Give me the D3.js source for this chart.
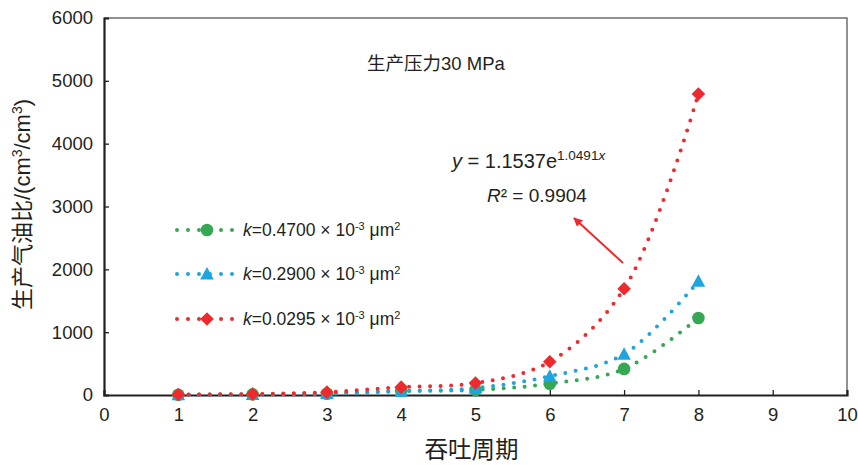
<!DOCTYPE html>
<html>
<head>
<meta charset="utf-8">
<script src="https://cdn.jsdelivr.net/npm/d3@7"></script>
<style>
  body { margin: 0; background: #fff; }
  svg text { font-family: "Liberation Sans", Arial, "Noto Sans CJK SC", sans-serif; fill: #231f20; }
</style>
</head>
<body>
<div id="chart"></div>
<script>
// data
const cycles = [1, 2, 3, 4, 5, 6, 7, 8];
const gorHighK = [5, 10, 20, 65, 80, 180, 415, 1225];     // k=0.4700
const gorMidK = [3, 8, 25, 60, 110, 300, 650, 1810];      // k=0.2900
const gorLowK = [8, 15, 45, 125, 190, 530, 1690, 4790];   // k=0.0295
const xTicks = [0, 1, 2, 3, 4, 5, 6, 7, 8, 9, 10];
const yTicks = [0, 1000, 2000, 3000, 4000, 5000, 6000];

const series = [
    {name: "0.4700", values: gorHighK, color: "#36a853", shape: "circle"},
    {name: "0.2900", values: gorMidK, color: "#1ea5e0", shape: "triangle"},
    {name: "0.0295", values: gorLowK, color: "#ee2a2e", shape: "diamond"}
];

const width = 858, height = 465;
const margin = {top: 18, right: 11, bottom: 70, left: 104};
const innerWidth = width - margin.left - margin.right,
    innerHeight = height - margin.top - margin.bottom;

const svg = d3.select("#chart").append("svg")
    .attr("width", width)
    .attr("height", height);

const defs = svg.append("defs");
defs.append("marker")
    .attr("id", "arrow")
    .attr("viewBox", "0 0 10 10")
    .attr("refX", 9).attr("refY", 5)
    .attr("markerWidth", 4.5).attr("markerHeight", 4.5)
    .attr("orient", "auto")
    .append("path")
    .attr("d", "M0,0 L10,5 L0,10 z")
    .attr("fill", "#ee2a2e");

const g = svg.append("g")
    .attr("transform", `translate(${margin.left},${margin.top})`);

const xScale = d3.scaleLinear().domain([0, 10]).range([0, innerWidth]);
const yScale = d3.scaleLinear().domain([0, 6000]).range([innerHeight, 0]);

// frame: top and right in grey
g.append("path")
    .attr("d", `M0,0 H${innerWidth} V${innerHeight}`)
    .attr("fill", "none")
    .attr("stroke", "#6d6e71")
    .attr("stroke-width", 1.5);

const xAxis = d3.axisBottom(xScale).tickValues(xTicks).tickSize(-5).tickPadding(13).tickFormat(d3.format("d"));
const yAxis = d3.axisLeft(yScale).tickValues(yTicks).tickSize(-5).tickPadding(11).tickFormat(d3.format("d"));

const xAxisG = g.append("g").attr("transform", `translate(0,${innerHeight})`).call(xAxis);
const yAxisG = g.append("g").call(yAxis);
[xAxisG, yAxisG].forEach(a => {
    a.select(".domain").attr("stroke", "#231f20").attr("stroke-width", 2.2);
    a.selectAll(".tick line").attr("stroke", "#231f20").attr("stroke-width", 1.3);
    a.selectAll(".tick text").attr("font-size", 18.5).attr("fill", "#231f20");
});
xAxisG.selectAll(".tick").filter(d => d === 0 || d === 10).select("line").remove();
yAxisG.selectAll(".tick").filter(d => d === 0 || d === 6000).select("line").remove();

// axis titles
svg.append("text")
    .attr("x", margin.left + innerWidth / 2 - 4)
    .attr("y", 458)
    .attr("text-anchor", "middle")
    .attr("font-size", 23.5)
    .text("吞吐周期");

svg.append("text")
    .attr("transform", `translate(30,${margin.top + innerHeight / 2 - 2}) rotate(-90)`)
    .attr("text-anchor", "middle")
    .attr("font-size", 22)
    .html('生产气油比/(cm<tspan dy="-8" font-size="14">3</tspan><tspan dy="8">/cm</tspan><tspan dy="-8" font-size="14">3</tspan><tspan dy="8">)</tspan>');

// dotted smooth lines
const line = d3.line()
    .x((d, i) => xScale(cycles[i]))
    .y(d => yScale(d))
    .curve(d3.curveCatmullRom.alpha(0.5));

function drawMarker(sel, shape, color, x, y) {
    if (shape === "circle") {
        sel.append("circle").attr("cx", x).attr("cy", y).attr("r", 6.3).attr("fill", color);
    } else if (shape === "triangle") {
        sel.append("path")
            .attr("d", "M0,-7 L6.8,5.5 L-6.8,5.5 Z")
            .attr("transform", `translate(${x},${y})`)
            .attr("fill", color);
    } else {
        sel.append("path")
            .attr("d", "M0,-6.8 L6.8,0 L0,6.8 L-6.8,0 Z")
            .attr("transform", `translate(${x},${y})`)
            .attr("fill", color);
    }
}

series.forEach(s => {
    g.append("path")
        .datum(s.values)
        .attr("d", line)
        .attr("fill", "none")
        .attr("stroke", s.color)
        .attr("stroke-width", 4)
        .attr("stroke-linecap", "round")
        .attr("stroke-dasharray", "0 10.5");
});
series.forEach(s => {
    const mg = g.append("g");
    s.values.forEach((v, i) => drawMarker(mg, s.shape, s.color, xScale(cycles[i]), yScale(v)));
});

// legend
const legendY = [230, 274, 319];
series.forEach((s, i) => {
    const lg = svg.append("g").attr("transform", `translate(0,${legendY[i]})`);
    lg.append("line")
        .attr("x1", 177).attr("x2", 233)
        .attr("y1", 0).attr("y2", 0)
        .attr("stroke", s.color)
        .attr("stroke-width", 4)
        .attr("stroke-linecap", "round")
        .attr("stroke-dasharray", "0 11");
    drawMarker(lg, s.shape, s.color, 207, 0);
    lg.append("text")
        .attr("x", 243).attr("y", 6)
        .attr("font-size", 17.5)
        .html(`<tspan font-style="italic">k</tspan>=${s.name} × 10<tspan dy="-6" font-size="11">-3</tspan><tspan dy="6"> μm</tspan><tspan dy="-6" font-size="11">2</tspan>`);
});

// annotation
svg.append("text")
    .attr("x", 367).attr("y", 70)
    .attr("font-size", 18.5)
    .text("生产压力30 MPa");

svg.append("text")
    .attr("x", 452).attr("y", 168)
    .attr("font-size", 20)
    .html('<tspan font-style="italic">y</tspan> = 1.1537e<tspan dy="-8" font-size="13.5">1.0491</tspan><tspan font-style="italic" font-size="13.5">x</tspan>');

svg.append("text")
    .attr("x", 487).attr("y", 202)
    .attr("font-size", 19)
    .html('<tspan font-style="italic">R</tspan>² = 0.9904');

svg.append("line")
    .attr("x1", 623).attr("y1", 263)
    .attr("x2", 574).attr("y2", 218)
    .attr("stroke", "#ee2a2e")
    .attr("stroke-width", 2)
    .attr("marker-end", "url(#arrow)");
</script>
</body>
</html>
